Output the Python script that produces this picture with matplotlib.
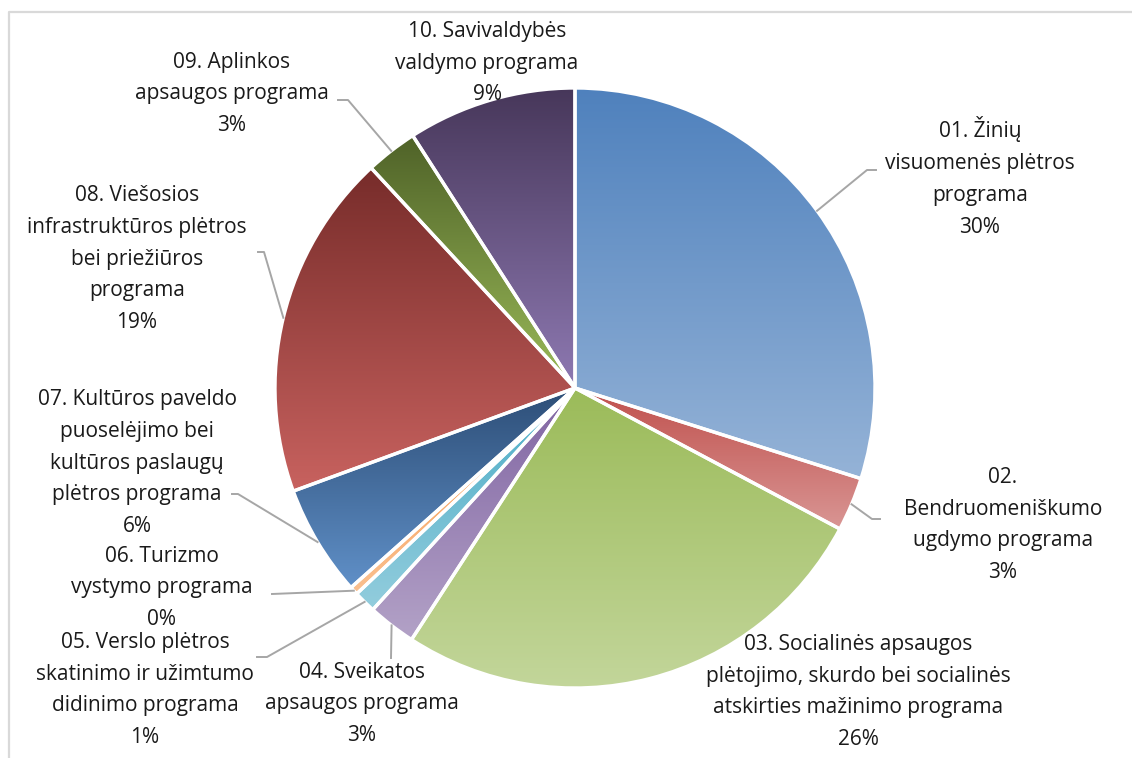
import numpy as np
import matplotlib
matplotlib.use("Agg")
import matplotlib.pyplot as plt
from matplotlib.colors import to_rgb

plt.rcParams['font.family'] = ['Open Sans', 'DejaVu Sans']

# data (share of budget, %)
names = [
    "01. Žinių\nvisuomenės plėtros\nprograma",
    "02.\nBendruomeniškumo\nugdymo programa",
    "03. Socialinės apsaugos\nplėtojimo, skurdo bei socialinės\natskirties mažinimo programa",
    "04. Sveikatos\napsaugos programa",
    "05. Verslo plėtros\nskatinimo ir užimtumo\ndidinimo programa",
    "06. Turizmo\nvystymo programa",
    "07. Kultūros paveldo\npuoselėjimo bei\nkultūros paslaugų\nplėtros programa",
    "08. Viešosios\ninfrastruktūros plėtros\nbei priežiūros\nprograma",
    "09. Aplinkos\napsaugos programa",
    "10. Savivaldybės\nvaldymo programa",
]
values = [29.9, 2.9, 26.4, 2.6, 1.2, 0.45, 6.0, 18.7, 2.8, 9.1]

# gradient colours per slice: (top, bottom)
grad_top = ['#4F81BD', '#C0504D', '#9BBB59', '#8064A2', '#4BACC6',
            '#F79646', '#2D4E77', '#772C2A', '#4F6228', '#47375A']
grad_bot = ['#95B3D7', '#D99694', '#C3D69B', '#B3A2C7', '#93CDDD',
            '#FAC090', '#6090C8', '#C8625F', '#9BBB59', '#8E79B2']

W, H = 1132, 758
cx, cy, R = 575, H - 388, 300

fig = plt.figure(figsize=(W / 100, H / 100), dpi=100)
ax = fig.add_axes([0, 0, 1, 1])

wedges, _ = ax.pie(values, center=(cx, cy), radius=R, startangle=90,
                   counterclock=False, frame=True,
                   wedgeprops=dict(edgecolor='white', linewidth=2.4))

for w, c0, c1 in zip(wedges, grad_top, grad_bot):
    v = w.get_path().vertices
    x0, x1 = v[:, 0].min(), v[:, 0].max()
    y0, y1 = v[:, 1].min(), v[:, 1].max()
    t = np.linspace(0, 1, 256)[:, None]
    grad = (1 - t) * np.array(to_rgb(c0)) + t * np.array(to_rgb(c1))
    im = ax.imshow(grad[:, None, :], extent=[x0, x1, y0, y1], origin='upper',
                   aspect='auto', interpolation='bilinear', zorder=1)
    im.set_clip_path(w)
    w.set_facecolor('none')
    w.set_zorder(2)

# label layout (pixel positions measured on the reference, y from top)
label_pos = [(980, 177), (1003, 525), (858, 692), (362, 704), (145, 690),
             (162, 588), (137, 463), (137, 259), (232, 94), (487, 63)]
leaders = {0: [(867, 170), (876, 170)],
           1: [(872, 519), (880, 519)],
           3: [(391, 658)],
           4: [(267, 657), (257, 657)],
           5: [(272, 594)],
           6: [(238, 494), (232, 494)],
           7: [(264, 252), (258, 252)],
           8: [(348, 100), (338, 100)]}

total = sum(values)
for i, (w, name) in enumerate(zip(wedges, names)):
    pct = round(values[i] / total * 100)
    lx, ly = label_pos[i]
    ax.text(lx, H - ly, f"{name}\n{pct}%", ha='center', va='center',
            multialignment='center', fontsize=15, color='#1a1a1a',
            linespacing=1.67, zorder=4)
    if i in leaders:
        mid = np.deg2rad((w.theta1 + w.theta2) / 2)
        px = [cx + R * np.cos(mid)] + [p[0] for p in leaders[i]]
        py = [cy + R * np.sin(mid)] + [H - p[1] for p in leaders[i]]
        ax.plot(px, py, color='#A6A6A6', lw=1.4, zorder=3)

# chart frame (top and left edges visible)
ax.plot([9, 9, W], [0, H - 12, H - 12], color='#D9D9D9', lw=1.6, zorder=5)

ax.set_xlim(0, W)
ax.set_ylim(0, H)
ax.set_aspect('equal')
ax.axis('off')

fig.savefig("out.png", dpi=100)
